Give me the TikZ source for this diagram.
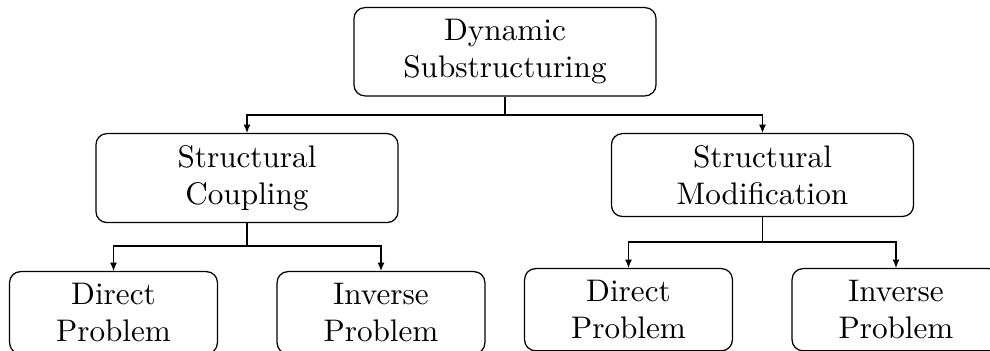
\documentclass[tikz,border=0pt]{standalone}
\usetikzlibrary{arrows.meta}
\begin{document}
\begin{tikzpicture}[x=0.3205pt,y=-0.3205pt,
  box/.style={draw, rounded corners=3.5pt, align=center, line width=0.4pt,
    inner xsep=2pt, inner ysep=3.7pt, anchor=north},
  bigbox/.style={box, minimum width=96.8pt},
  smallbox/.style={box, minimum width=66.6pt},
  conn/.style={line width=0.4pt, -{Latex[length=2.7pt,width=2.3pt]}}]
\useasboundingbox (0,0) rectangle (990,351);
\node[bigbox] (ds) at (505,7) {Dynamic\\Substructuring};
\node[bigbox] (sc) at (247,133) {Structural\\Coupling};
\node[bigbox] (sm) at (762.5,133) {Structural\\Modification};
\node[smallbox] (scd) at (113.5,271) {Direct\\Problem};
\node[smallbox] (sci) at (381,271) {Inverse\\Problem};
\node[smallbox] (smd) at (628.5,268) {Direct\\Problem};
\node[smallbox] (smi) at (896,268) {Inverse\\Problem};
\coordinate (j0) at (505,115);
\coordinate (j1) at (247,246);
\coordinate (j2) at (762.5,242);
\draw[conn] (ds.south) -- (j0) -| (sc.north);
\draw[conn] (j0) -| (sm.north);
\draw[conn] (sc.south) -- (j1) -| (scd.north);
\draw[conn] (j1) -| (sci.north);
\draw[conn] (sm.south) -- (j2) -| (smd.north);
\draw[conn] (j2) -| (smi.north);
\end{tikzpicture}
\end{document}
